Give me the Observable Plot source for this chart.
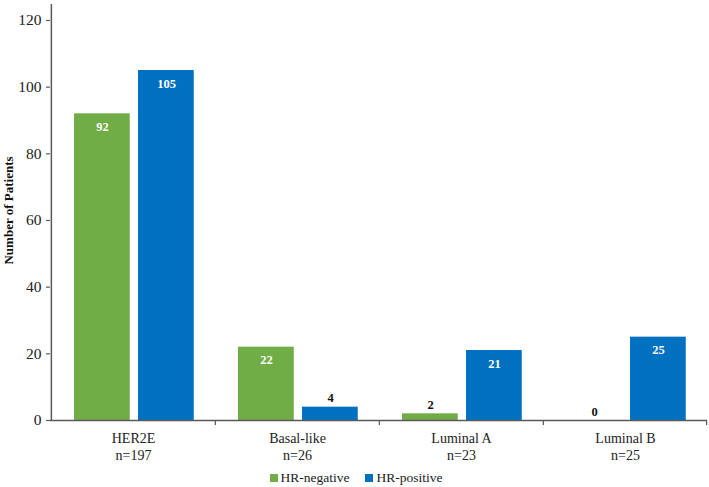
<!DOCTYPE html>
<html><head><meta charset="utf-8">
<script src="https://cdn.jsdelivr.net/npm/d3@7"></script>
<script src="https://cdn.jsdelivr.net/npm/@observablehq/plot@0.6"></script>
<style>
body{margin:0;background:#fff;font-family:"Liberation Serif","Times New Roman",serif;}
#chart svg{display:block;}
#legend{display:flex;justify-content:center;align-items:center;height:19px;padding-left:3px;font-size:13.5px;color:#222;}
#legend .item{display:flex;align-items:center;margin:0 8px;}
#legend .sw{width:8px;height:8px;margin-right:3px;}
</style></head><body><div id="chart"></div><div id="legend"></div>
<script>
const categories = ["HER2E", "Basal-like", "Luminal A", "Luminal B"];
const totals = ["n=197", "n=26", "n=23", "n=25"];
const series = ["HR-negative", "HR-positive"];
const hrNegative = [92, 22, 2, 0];
const hrPositive = [105, 4, 21, 25];
const yTicks = [0, 20, 40, 60, 80, 100, 120];
const colors = ["#70AD47", "#0070C0"];

const data = categories.flatMap((c, i) => [
  {cat: c, series: series[0], value: hrNegative[i]},
  {cat: c, series: series[1], value: hrPositive[i]}
]);

const W = 709, ML = 50, MR = 2;
const bw = (W - ML - MR) / categories.length;
const axisColor = "#595959";
const neg = data.filter(d => d.series === series[0]);
const pos = data.filter(d => d.series === series[1]);
const inside = d => d.value >= 10;
const font = '"Liberation Serif","Times New Roman",serif';

const chart = Plot.plot({
  width: W, height: 468,
  marginLeft: ML, marginRight: MR, marginTop: 0, marginBottom: 48,
  style: {fontFamily: font, background: "#fff"},
  x: {type: "band", domain: categories, padding: 0, axis: null},
  y: {domain: [0, 126], axis: null},
  color: {domain: series, range: colors},
  marks: [
    Plot.barY(neg, {x: "cat", y: "value", fill: colors[0], insetLeft: 23, insetRight: bw - 23 - 56}),
    Plot.barY(pos, {x: "cat", y: "value", fill: colors[1], insetLeft: 87, insetRight: bw - 87 - 56}),
    Plot.ruleY([0], {stroke: axisColor, strokeWidth: 1.5}),
    Plot.ruleX([categories[0]], {x: d => d, dx: -bw / 2, y1: 0, y2: 126, insetBottom: -4, stroke: axisColor, strokeWidth: 1.5}),
    Plot.ruleX(categories.slice(1), {x: d => d, dx: -bw / 2, y1: 0, y2: 0, insetBottom: -5, stroke: axisColor, strokeWidth: 1.2}),
    Plot.ruleX([categories[categories.length - 1]], {x: d => d, dx: bw / 2 - 1, y1: 0, y2: 0, insetBottom: -5, stroke: axisColor, strokeWidth: 1.2}),
    Plot.axisY({ticks: yTicks, tickSize: 4, tickPadding: 5, fontSize: 15.5, fontFamily: font, stroke: axisColor, strokeWidth: 1.2, label: null, color: "#222"}),
    Plot.text(categories, {x: d => d, y: 0, text: (d, i) => d + "\n" + totals[i], dy: 10, lineAnchor: "top", lineHeight: 1.25, fontSize: 14, fontFamily: font, fill: "#222"}),
    Plot.text(["Number of Patients"], {frameAnchor: "left", textAnchor: "middle", rotate: -90, dx: -42, fontSize: 13, fontWeight: "bold", fontFamily: font, fill: "#111"}),
    Plot.text(neg.filter(inside), {x: "cat", y: "value", text: d => String(d.value), dx: -31, dy: 13, fill: "white", fontWeight: "bold", fontSize: 12.5, fontFamily: font}),
    Plot.text(pos.filter(inside), {x: "cat", y: "value", text: d => String(d.value), dx: 33, dy: 13, fill: "white", fontWeight: "bold", fontSize: 12.5, fontFamily: font}),
    Plot.text(neg.filter(d => !inside(d)), {x: "cat", y: "value", text: d => String(d.value), dx: -31, dy: -9, fill: "#111", fontWeight: "bold", fontSize: 12.5, fontFamily: font}),
    Plot.text(pos.filter(d => !inside(d)), {x: "cat", y: "value", text: d => String(d.value), dx: 33, dy: -9, fill: "#111", fontWeight: "bold", fontSize: 12.5, fontFamily: font})
  ]
});
document.getElementById("chart").appendChild(chart);

const legend = document.getElementById("legend");
series.forEach((s, i) => {
  const item = document.createElement("div");
  item.className = "item";
  const sw = document.createElement("span");
  sw.className = "sw";
  sw.style.background = colors[i];
  const t = document.createElement("span");
  t.textContent = s;
  item.appendChild(sw); item.appendChild(t);
  legend.appendChild(item);
});
</script></body></html>
